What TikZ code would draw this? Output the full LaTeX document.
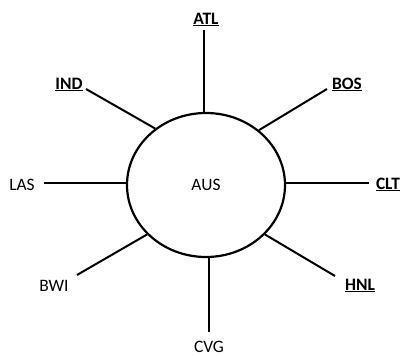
\documentclass[tikz,border=0pt]{standalone}
\usepackage{fontspec}
\setmainfont{Carlito}
\usetikzlibrary{shapes.geometric}
\begin{document}
\begin{tikzpicture}[x=1bp,y=1bp,
  hub/.style={draw,line width=2.2bp,ellipse,inner sep=0pt,minimum width=158bp,minimum height=144bp,font=\fontsize{17.5}{20}\selectfont},
  lbl/.style={anchor=base,inner sep=0pt,font=\fontsize{17.5}{20}\selectfont},
  blbl/.style={lbl,font=\fontsize{17.5}{20}\selectfont\bfseries},
  spoke/.style={line width=2bp}]
\useasboundingbox (0,0) rectangle (402,356);
\node[hub] (aus) at (206,171) {AUS};
\node[blbl] (atl) at (206,332) {\underline{ATL}};
\node[blbl] (ind) at (69,267) {\underline{IND}};
\node[blbl] (bos) at (347,267) {\underline{BOS}};
\node[lbl] (las) at (22,166) {LAS};
\node[blbl] (clt) at (388,167) {\underline{CLT}};
\node[lbl] (bwi) at (54,65) {BWI};
\node[blbl] (hnl) at (360,66) {\underline{HNL}};
\node[lbl] (cvg) at (209,3.5) {CVG};
\coordinate (atl-e) at (204,326);
\coordinate (ind-e) at (86,267);
\coordinate (bos-e) at (327,267);
\coordinate (las-e) at (44,173);
\coordinate (clt-e) at (369,173);
\coordinate (bwi-e) at (77,81);
\coordinate (hnl-e) at (335,80);
\coordinate (cvg-e) at (209,24);
\draw[spoke] (atl-e) -- (atl-e |- aus.north);
\draw[spoke] (ind-e) -- (aus.132);
\draw[spoke] (bos-e) -- (aus.46.6);
\draw[spoke] (las-e) -- (las-e -| aus.west);
\draw[spoke] (clt-e) -- (clt-e -| aus.east);
\draw[spoke] (bwi-e) -- (aus.220.8);
\draw[spoke] (hnl-e) -- (aus.320);
\draw[spoke] (cvg-e) -- (cvg-e |- aus.south);
\end{tikzpicture}
\end{document}
